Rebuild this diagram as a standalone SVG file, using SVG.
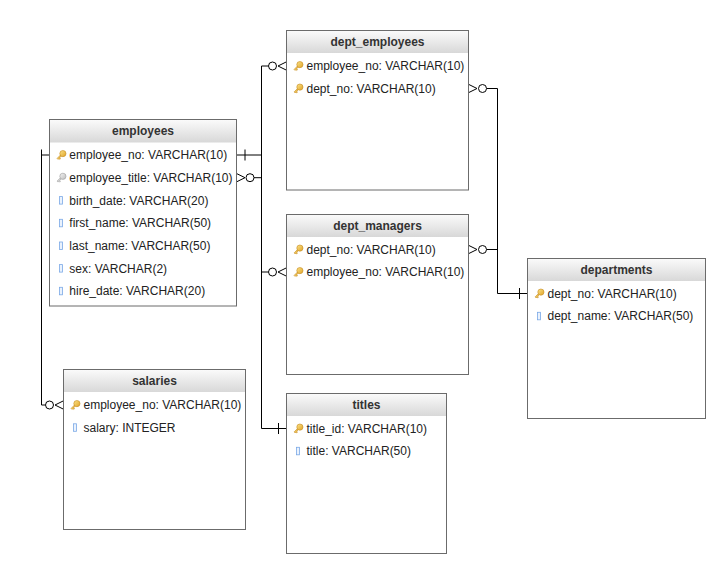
<svg xmlns="http://www.w3.org/2000/svg" width="727" height="583" viewBox="0 0 727 583">
  <defs>
    <linearGradient id="hdr" x1="0" y1="0" x2="0" y2="1">
      <stop offset="0" stop-color="#fafafa"/>
      <stop offset="1" stop-color="#d8d8d8"/>
    </linearGradient>
    <linearGradient id="gold" x1="0" y1="0" x2="1" y2="1">
      <stop offset="0" stop-color="#fbe38a"/>
      <stop offset="1" stop-color="#e0a326"/>
    </linearGradient>
    <linearGradient id="silver" x1="0" y1="0" x2="1" y2="1">
      <stop offset="0" stop-color="#f4f4f4"/>
      <stop offset="1" stop-color="#bdbdbd"/>
    </linearGradient>
    <!-- primary key icon -->
    <g id="pk">
      <path d="M4.2,4.8 L0.6,8.4 L1.6,9.4 L2.4,8.6 L3.2,9.4 L4.0,8.6 L3.2,7.8 L5.2,5.8 Z" fill="url(#gold)" stroke="#c48a1e" stroke-width="0.6"/>
      <circle cx="6.4" cy="3.6" r="3.1" fill="url(#gold)" stroke="#c48a1e" stroke-width="0.6"/>
    </g>
    <!-- foreign key icon -->
    <g id="fk">
      <path d="M4.2,4.8 L0.6,8.4 L1.6,9.4 L2.4,8.6 L3.2,9.4 L4.0,8.6 L3.2,7.8 L5.2,5.8 Z" fill="url(#silver)" stroke="#9a9a9a" stroke-width="0.6"/>
      <circle cx="6.4" cy="3.6" r="3.1" fill="url(#silver)" stroke="#9a9a9a" stroke-width="0.6"/>
    </g>
    <!-- plain column icon -->
    <rect id="col" x="0" y="0" width="3" height="7.5" fill="#eaf2fd" stroke="#7aa8e6" stroke-width="0.8"/>
  </defs>
  <style>
    .box { fill: #ffffff; stroke: #6b6b6b; stroke-width: 1; }
    .head { fill: url(#hdr); }
    .title { font-family: "Liberation Sans", Arial, sans-serif; font-size: 12px; font-weight: bold; fill: #333333; text-anchor: middle; }
    .row { font-family: "Liberation Sans", Arial, sans-serif; font-size: 12px; fill: #222222; }
    .edge { fill: none; stroke: #000000; stroke-width: 1; }
    .ring { fill: #ffffff; stroke: #000000; stroke-width: 1; }
  </style>

  <rect width="727" height="583" fill="#ffffff"/>

  <!-- relationship lines -->
  <g id="connectors">
    <!-- employees.employee_no -> dept_employees.employee_no -->
    <path class="edge" d="M236.5,155 H261.5 V66 H268.5"/>
    <path class="edge" d="M245,149.5 V160.5"/>
    <circle class="ring" cx="272.5" cy="66" r="4"/>
    <path class="edge" d="M286.5,61.8 L278,66 L286.5,70.2"/>

    <!-- employees.employee_no -> dept_managers.employee_no -->
    <path class="edge" d="M261.5,155 V272 H268.5"/>
    <circle class="ring" cx="272.5" cy="272" r="4"/>
    <path class="edge" d="M286.5,267.8 L278,272 L286.5,276.2"/>

    <!-- employees.employee_title -> titles.title_id -->
    <path class="edge" d="M254,177.7 H261.5 V428.5 H286.5"/>
    <circle class="ring" cx="250" cy="177.7" r="4"/>
    <path class="edge" d="M236.5,173.5 L245,177.7 L236.5,181.9"/>
    <path class="edge" d="M278.5,423 V434"/>

    <!-- employees.employee_no -> salaries.employee_no -->
    <path class="edge" d="M49.5,155 H41.5 V405 H45.5"/>
    <path class="edge" d="M41.5,149.5 V160.5"/>
    <circle class="ring" cx="49.5" cy="405" r="4"/>
    <path class="edge" d="M63.5,400.8 L55,405 L63.5,409.2"/>

    <!-- dept_employees.dept_no -> departments.dept_no -->
    <path class="edge" d="M486.5,88.5 H497.5 V293.5 H527.5"/>
    <circle class="ring" cx="482.5" cy="88.5" r="4"/>
    <path class="edge" d="M468.5,84.3 L477,88.5 L468.5,92.7"/>
    <path class="edge" d="M519.5,288 V299"/>

    <!-- dept_managers.dept_no -> departments.dept_no -->
    <path class="edge" d="M486.5,249.5 H497.5"/>
    <circle class="ring" cx="482.5" cy="249.5" r="4"/>
    <path class="edge" d="M468.5,245.3 L477,249.5 L468.5,253.7"/>
  </g>

  <!-- employees -->
  <g id="employees">
    <rect class="box" x="49.5" y="119.5" width="187" height="186.5"/>
    <rect class="head" x="50" y="120" width="186" height="22.5"/>
    <text class="title" x="143" y="135.3">employees</text>
    <use href="#pk" x="56.5" y="150"/>
    <text class="row" x="69.3" y="159.2">employee_no: VARCHAR(10)</text>
    <use href="#fk" x="56.5" y="172.7"/>
    <text class="row" x="69.3" y="181.9">employee_title: VARCHAR(10)</text>
    <use href="#col" x="59.5" y="196.6"/>
    <text class="row" x="69.3" y="204.5">birth_date: VARCHAR(20)</text>
    <use href="#col" x="59.5" y="219.3"/>
    <text class="row" x="69.3" y="227.2">first_name: VARCHAR(50)</text>
    <use href="#col" x="59.5" y="242"/>
    <text class="row" x="69.3" y="249.9">last_name: VARCHAR(50)</text>
    <use href="#col" x="59.5" y="264.6"/>
    <text class="row" x="69.3" y="272.5">sex: VARCHAR(2)</text>
    <use href="#col" x="59.5" y="287.3"/>
    <text class="row" x="69.3" y="295.2">hire_date: VARCHAR(20)</text>
  </g>

  <!-- dept_employees -->
  <g id="dept_employees">
    <rect class="box" x="286.5" y="30.5" width="182" height="159.5"/>
    <rect class="head" x="287" y="31" width="181" height="22"/>
    <text class="title" x="377.5" y="46.3">dept_employees</text>
    <use href="#pk" x="293.5" y="61"/>
    <text class="row" x="306.5" y="70.2">employee_no: VARCHAR(10)</text>
    <use href="#pk" x="293.5" y="83.5"/>
    <text class="row" x="306.5" y="92.7">dept_no: VARCHAR(10)</text>
  </g>

  <!-- dept_managers -->
  <g id="dept_managers">
    <rect class="box" x="286.5" y="214.5" width="182" height="160"/>
    <rect class="head" x="287" y="215" width="181" height="22"/>
    <text class="title" x="377.5" y="230.3">dept_managers</text>
    <use href="#pk" x="293.5" y="244.5"/>
    <text class="row" x="306.5" y="253.7">dept_no: VARCHAR(10)</text>
    <use href="#pk" x="293.5" y="267"/>
    <text class="row" x="306.5" y="276.2">employee_no: VARCHAR(10)</text>
  </g>

  <!-- departments -->
  <g id="departments">
    <rect class="box" x="527.5" y="258.5" width="178" height="160"/>
    <rect class="head" x="528" y="259" width="177" height="22"/>
    <text class="title" x="616.5" y="274.3">departments</text>
    <use href="#pk" x="534.5" y="288.5"/>
    <text class="row" x="547.5" y="297.7">dept_no: VARCHAR(10)</text>
    <use href="#col" x="537.5" y="312.3"/>
    <text class="row" x="547.5" y="320.2">dept_name: VARCHAR(50)</text>
  </g>

  <!-- salaries -->
  <g id="salaries">
    <rect class="box" x="63.5" y="369.5" width="182" height="160"/>
    <rect class="head" x="64" y="370" width="181" height="22"/>
    <text class="title" x="154.5" y="385.3">salaries</text>
    <use href="#pk" x="70.5" y="400"/>
    <text class="row" x="83.5" y="409.2">employee_no: VARCHAR(10)</text>
    <use href="#col" x="73.5" y="423.8"/>
    <text class="row" x="83.5" y="431.7">salary: INTEGER</text>
  </g>

  <!-- titles -->
  <g id="titles">
    <rect class="box" x="286.5" y="393.5" width="160" height="160"/>
    <rect class="head" x="287" y="394" width="159" height="22"/>
    <text class="title" x="366.5" y="409.3">titles</text>
    <use href="#pk" x="293.5" y="423.5"/>
    <text class="row" x="306.5" y="432.7">title_id: VARCHAR(10)</text>
    <use href="#col" x="296.5" y="447.3"/>
    <text class="row" x="306.5" y="455.2">title: VARCHAR(50)</text>
  </g>
</svg>
